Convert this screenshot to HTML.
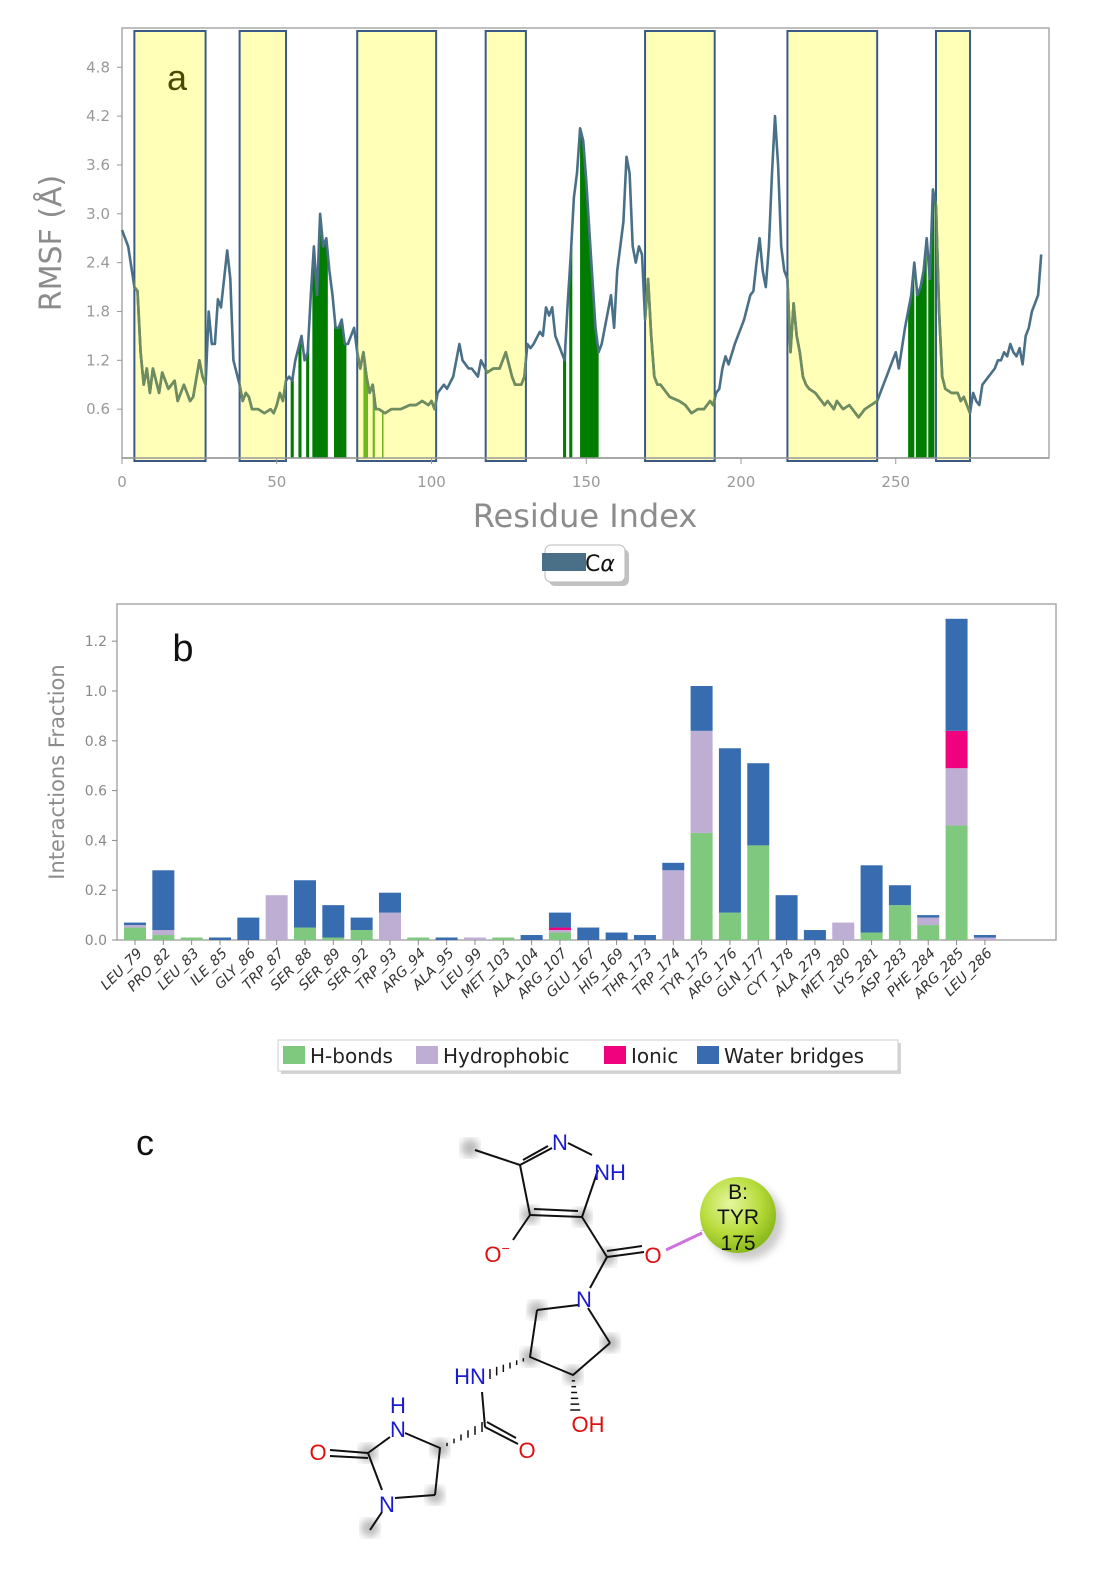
<!DOCTYPE html>
<html><head><meta charset="utf-8">
<style>
html,body{margin:0;padding:0;background:#fff;}
body{width:1106px;height:1595px;overflow:hidden;font-family:"DejaVu Sans","Liberation Sans",sans-serif;}
svg{position:absolute;left:0;top:0;}
</style></head>
<body>
<svg id="fig" width="1106" height="1595" viewBox="0 0 1106 1595">
<defs>
<clipPath id="ycl"></clipPath>
<radialGradient id="tyrg" cx="40%" cy="35%" r="65%"><stop offset="0" stop-color="#e6f7a0"/><stop offset="0.6" stop-color="#b8dc3c"/><stop offset="1" stop-color="#8cba1c"/></radialGradient>
<filter id="blur"><feGaussianBlur stdDeviation="4"/></filter>
</defs>
<g id="pa"></g>
<g id="pb"></g>
<g id="pc"></g>
</svg>
<script>
// ---------- Panel a data ----------
const rmsfRes = [0,2,4,5,6,7,8,9,10,12,13,15,17,18,20,22,23,25,26,27,28,29,30,31,32,34,35,36,38,39,40,41,42,44,46,48,49,50,51,52,53,54,55,56,58,59,60,61,62,63,64,65,66,67,68,69,70,71,72,73,74,75,76,77,78,79,80,81,82,83,85,87,90,93,95,97,99,100,101,102,104,105,107,109,110,112,113,115,116,118,120,122,124,126,127,129,130,131,132,133,135,136,137,138,139,140,141,142,143,144,145,146,147,148,149,150,151,152,153,154,155,157,158,159,160,162,163,164,165,166,167,168,169,170,171,172,173,174,176,177,180,182,184,186,188,189,190,191,192,193,194,195,196,198,200,201,202,203,204,205,206,207,208,209,210,211,212,213,214,215,216,217,218,219,220,221,222,224,225,227,228,230,231,233,235,236,238,240,242,244,246,247,249,250,251,253,254,255,256,257,258,259,260,261,262,263,264,265,266,268,270,271,272,273,274,275,276,277,278,280,282,283,284,285,286,287,288,289,290,291,292,293,294,295,296,297];
const rmsfVal = [2.8,2.6,2.1,2.05,1.3,0.9,1.1,0.8,1.1,0.8,1.05,0.85,0.95,0.7,0.9,0.7,0.75,1.2,1.0,0.9,1.8,1.4,1.4,1.95,1.85,2.55,2.2,1.2,0.9,0.7,0.8,0.75,0.6,0.6,0.55,0.6,0.55,0.65,0.8,0.7,0.95,1.0,0.95,1.2,1.5,1.2,1.3,2.0,2.6,2.0,3.0,2.6,2.7,2.3,2.0,1.6,1.6,1.7,1.4,1.4,1.5,1.6,1.3,1.1,1.3,1.0,0.8,0.9,0.6,0.6,0.55,0.6,0.6,0.65,0.65,0.7,0.65,0.7,0.6,0.8,0.9,0.85,1.0,1.4,1.2,1.1,1.1,1.0,1.2,1.05,1.1,1.1,1.3,1.0,0.9,0.9,1.0,1.4,1.35,1.4,1.55,1.5,1.85,1.75,1.85,1.5,1.4,1.3,1.2,1.9,2.5,3.2,3.5,4.05,3.9,3.4,2.8,2.2,1.6,1.3,1.4,1.8,2.0,1.6,2.3,2.9,3.7,3.5,2.6,2.4,2.6,2.5,1.7,2.2,1.5,1.0,0.9,0.9,0.8,0.75,0.7,0.65,0.55,0.6,0.6,0.65,0.7,0.65,0.8,0.85,1.1,1.25,1.15,1.4,1.6,1.7,1.85,2.0,2.05,2.4,2.7,2.3,2.1,2.6,3.5,4.2,3.6,2.6,2.3,2.2,1.3,1.9,1.5,1.3,1.0,0.9,0.85,0.8,0.75,0.65,0.7,0.6,0.7,0.6,0.65,0.6,0.5,0.6,0.65,0.7,0.9,1.0,1.2,1.3,1.1,1.6,1.8,2.0,2.4,2.0,2.1,2.3,2.7,2.2,3.3,3.1,1.8,1.0,0.85,0.8,0.8,0.7,0.75,0.65,0.55,0.8,0.7,0.65,0.9,1.0,1.1,1.2,1.2,1.3,1.25,1.4,1.3,1.25,1.35,1.15,1.5,1.6,1.8,1.9,2.0,2.5];
const helixStart = [4,38,76,117.5,169,215,263];
const helixEnd   = [27,53,101.5,130.5,191.5,244,274];
const contactStart = [54.5,57,59.5,61.5,68.5,142.5,144.5,148,254,256.5,260.5];
const contactEnd   = [55.5,58,60.5,66.5,72.5,143.5,145.5,154,256,260,262.5];
const weakStart = [78,81,84];
const weakEnd   = [79.5,81.7,84.5];
const xTicksA = [0,50,100,150,200,250];
const yTicksA = [0.6,1.2,1.8,2.4,3.0,3.6,4.2,4.8];

// ---------- Panel b data ----------
const residues = ["LEU_79","PRO_82","LEU_83","ILE_85","GLY_86","TRP_87","SER_88","SER_89","SER_92","TRP_93","ARG_94","ALA_95","LEU_99","MET_103","ALA_104","ARG_107","GLU_167","HIS_169","THR_173","TRP_174","TYR_175","ARG_176","GLN_177","CYT_178","ALA_279","MET_280","LYS_281","ASP_283","PHE_284","ARG_285","LEU_286"];
const hbonds      = [0.05,0.02,0.01,0,0,0,0.05,0.01,0.04,0,0.01,0,0,0.01,0,0.03,0,0,0,0,0.43,0.11,0.38,0,0,0,0.03,0.14,0.06,0.46,0];
const hydrophobic = [0.01,0.02,0,0,0,0.18,0,0,0,0.11,0,0,0.01,0,0,0.01,0,0,0,0.28,0.41,0,0,0,0,0.07,0,0,0.03,0.23,0.01];
const ionic       = [0,0,0,0,0,0,0,0,0,0,0,0,0,0,0,0.01,0,0,0,0,0,0,0,0,0,0,0,0,0,0.15,0];
const water       = [0.01,0.24,0,0.01,0.09,0,0.19,0.13,0.05,0.08,0,0.01,0,0,0.02,0.06,0.05,0.03,0.02,0.03,0.18,0.66,0.33,0.18,0.04,0,0.27,0.08,0.01,0.45,0.01];
const yTicksB = [0.0,0.2,0.4,0.6,0.8,1.0,1.2];

const NS="http://www.w3.org/2000/svg";
function mk(tag,attrs,parent,text){const e=document.createElementNS(NS,tag);for(const k in attrs)e.setAttribute(k,attrs[k]);if(text!==undefined)e.textContent=text;parent.appendChild(e);return e;}

// ===== Panel A =====
const pa=document.getElementById('pa');
const AX0=122, AX1=1049, AY0=28, AY1=458;
const xA=r=>122+r*3.095;
const yA=v=>458-v*81.4;
mk('rect',{x:AX0,y:AY0,width:AX1-AX0,height:AY1-AY0,fill:'#fff',stroke:'#aaa','stroke-width':1.5},pa);
const clip=document.getElementById('ycl');
for(let i=0;i<helixStart.length;i++){
  const r=mk('rect',{x:xA(helixStart[i]),y:31,width:xA(helixEnd[i])-xA(helixStart[i]),height:430,fill:'#ffffb8',stroke:'#3a5a8a','stroke-width':2},pa);
  
  
  mk('rect',{x:xA(helixStart[i]),y:31,width:xA(helixEnd[i])-xA(helixStart[i]),height:430},clip);
}
function interp(r){for(let i=0;i<rmsfRes.length-1;i++){if(r>=rmsfRes[i]&&r<=rmsfRes[i+1]){const t=(r-rmsfRes[i])/(rmsfRes[i+1]-rmsfRes[i]);return rmsfVal[i]+t*(rmsfVal[i+1]-rmsfVal[i]);}}return rmsfVal[rmsfVal.length-1];}
function fillRange(a,b,col){
  let pts=[[xA(a),yA(0)]];
  pts.push([xA(a),yA(interp(a))]);
  for(let i=0;i<rmsfRes.length;i++)if(rmsfRes[i]>a&&rmsfRes[i]<b)pts.push([xA(rmsfRes[i]),yA(rmsfVal[i])]);
  pts.push([xA(b),yA(interp(b))]);pts.push([xA(b),yA(0)]);
  return mk('polygon',{points:pts.map(p=>p.join(',')).join(' '),fill:col},pa);
}
for(let i=0;i<contactStart.length;i++){const p=fillRange(contactStart[i],contactEnd[i],'#007d00');
  
  }
for(let i=0;i<weakStart.length;i++){const p=fillRange(weakStart[i],weakEnd[i],'#6ab81e');
  
  }
const dLine=rmsfRes.map((r,i)=>(i?'L':'M')+xA(r).toFixed(1)+','+yA(rmsfVal[i]).toFixed(1)).join(' ');
const ln=mk('path',{d:dLine,fill:'none',stroke:'#4a7088','stroke-width':2.6,'stroke-linejoin':'round'},pa);


mk('path',{d:dLine,fill:'none',stroke:'#6f8c5e','stroke-width':2.6,'stroke-linejoin':'round','clip-path':'url(#ycl)'},pa);
mk('line',{x1:AX0,y1:AY1,x2:AX1,y2:AY1,stroke:'#999','stroke-width':1.5},pa);
yTicksA.forEach(v=>{mk('line',{x1:AX0-5,y1:yA(v),x2:AX0,y2:yA(v),stroke:'#999'},pa);
  const t=mk('text',{x:AX0-12,y:yA(v)+5,'text-anchor':'end','font-size':15,fill:'#999'},pa,v.toFixed(1));
  
  });
xTicksA.forEach(v=>{mk('line',{x1:xA(v),y1:AY1,x2:xA(v),y2:AY1+6,stroke:'#999'},pa);
  const t=mk('text',{x:xA(v),y:AY1+29,'text-anchor':'middle','font-size':15,fill:'#999'},pa,String(v));
  
  });
let t=mk('text',{x:177,y:90,'text-anchor':'middle','font-size':36,fill:'#4a4a00','font-family':'Liberation Sans, sans-serif'},pa,'a');

t=mk('text',{x:0,y:0,transform:'translate(61,243) rotate(-90)','text-anchor':'middle','font-size':30,fill:'#8c8c8c'},pa,'RMSF (Å)');

t=mk('text',{x:585,y:527,'text-anchor':'middle','font-size':32,fill:'#8c8c8c'},pa,'Residue Index');

mk('rect',{x:549,y:549,width:80,height:37,rx:6,fill:'#999',opacity:0.6},pa);
let lg=mk('rect',{x:545,y:545,width:80,height:37,rx:6,fill:'#fff',stroke:'#bbb'},pa);

mk('rect',{x:542,y:553,width:44,height:18,fill:'#4a7088'},pa);
mk('text',{x:585,y:571,'font-size':22,fill:'#111'},pa).innerHTML='C<tspan font-style="italic">α</tspan>';

// ===== Panel B =====
const pb=document.getElementById('pb');
const BX0=117,BX1=1056,BY0=604,BY1=940;
const yB=v=>940-v*249;
const xB=i=>135+i*28.33;
mk('rect',{x:BX0,y:BY0,width:BX1-BX0,height:BY1-BY0,fill:'#fff',stroke:'#aaa','stroke-width':1.5},pb);
const series=[[hbonds,'#7fc97f','hbonds'],[hydrophobic,'#beaed4','hydrophobic'],[ionic,'#f0027f','ionic'],[water,'#386cb0','water-bridges']];
residues.forEach((name,i)=>{
  let base=0;
  series.forEach(([arr,col,nm])=>{
    const v=arr[i]; if(v<=0)return;
    const r=mk('rect',{x:xB(i)-11,y:yB(base+v),width:22,height:yB(base)-yB(base+v),fill:col},pb);
    
    
    base+=v;
  });
  mk('line',{x1:xB(i),y1:BY1,x2:xB(i),y2:BY1+5,stroke:'#888'},pb);
  const lbl=mk('text',{x:0,y:0,transform:`translate(${xB(i)+8},${BY1+14}) rotate(-45)`,'text-anchor':'end','font-size':14,'font-style':'italic',fill:'#333'},pb,name);
  
  
});
yTicksB.forEach(v=>{mk('line',{x1:BX0-5,y1:yB(v),x2:BX0,y2:yB(v),stroke:'#888'},pb);
  const tt=mk('text',{x:BX0-10,y:yB(v)+5,'text-anchor':'end','font-size':14,fill:'#888'},pb,v.toFixed(1));
  
  });
t=mk('text',{x:183,y:661,'text-anchor':'middle','font-size':38,fill:'#111','font-family':'Liberation Sans, sans-serif'},pb,'b');

t=mk('text',{x:0,y:0,transform:'translate(64,772) rotate(-90)','text-anchor':'middle','font-size':21,fill:'#8c8c8c'},pb,'Interactions Fraction');

mk('rect',{x:281,y:1043,width:620,height:31,fill:'#aaa',opacity:0.5},pb);
lg=mk('rect',{x:278,y:1040,width:620,height:31,fill:'#fff',stroke:'#ccc'},pb);

const legItems=[['H-bonds','#7fc97f',283],['Hydrophobic','#beaed4',416],['Ionic','#f0027f',604],['Water bridges','#386cb0',697]];
legItems.forEach(([n,c,x])=>{mk('rect',{x:x,y:1046,width:22,height:18,fill:c},pb);
  const e=mk('text',{x:x+27,y:1063,'font-size':20,fill:'#222'},pb,n);
  });

// ===== Panel C =====
const pc=document.getElementById('pc');
t=mk('text',{x:145,y:1155,'text-anchor':'middle','font-size':36,fill:'#111','font-family':'Liberation Sans, sans-serif'},pc,'c');

const shadows=[[470,1148],[530,1215],[582,1217],[607,1257],[537,1310],[610,1343],[530,1357],[573,1375],[440,1448],[435,1495],[368,1453],[370,1528]];
shadows.forEach(([x,y])=>mk('circle',{cx:x,cy:y,r:9,fill:'#bbb',filter:'url(#blur)'},pc));
const bonds=[[475,1150,520,1165],[520,1165,552,1148],[598,1170,582,1217],[582,1217,530,1215],[530,1215,520,1165],[530,1215,513,1240],[582,1217,607,1257],[607,1257,644,1252],[607,1257,590,1288],[578,1305,537,1310],[537,1310,530,1357],[530,1357,573,1375],[573,1375,610,1343],[610,1343,588,1308],[482,1392,485,1427],[485,1427,518,1444],[440,1448,405,1433],[390,1437,368,1453],[368,1453,330,1450],[368,1453,382,1490],[395,1498,435,1495],[435,1495,440,1448],[382,1512,370,1530],[568,1143,592,1155]];
bonds.forEach(b=>mk('line',{x1:b[0],y1:b[1],x2:b[2],y2:b[3],stroke:'#111','stroke-width':2},pc));
const dbl=[[523,1160,548,1146],[534,1209,578,1211],[607,1251,642,1246],[487,1422,516,1438],[368,1458,330,1456]];
dbl.forEach(b=>mk('line',{x1:b[0],y1:b[1],x2:b[2],y2:b[3],stroke:'#111','stroke-width':2},pc));
for(let k=0;k<7;k++){const f=k/6;const x=530-(530-490)*f,y=1357+(1374-1357)*f;mk('line',{x1:x,y1:y-1-f*4,x2:x,y2:y+1+f*4,stroke:'#111','stroke-width':1.5},pc);}
for(let k=0;k<7;k++){const f=k/6;const x=573+(588-573)*f*0.15,y=1375+(1410-1375)*f;mk('line',{x1:x-1-f*4,y1:y,x2:x+1+f*4,y2:y,stroke:'#111','stroke-width':1.5},pc);}
for(let k=0;k<7;k++){const f=k/6;const x=440+(482-440)*f,y=1448+(1427-1448)*f;mk('line',{x1:x,y1:y-1-f*4,x2:x,y2:y+1+f*4,stroke:'#111','stroke-width':1.5},pc);}
const atoms=[['N',560,1150,'#1a1ad0'],['NH',610,1180,'#1a1ad0'],['N',584,1307,'#1a1ad0'],['HN',470,1384,'#1a1ad0'],['H',398,1413,'#1a1ad0'],['N',398,1437,'#1a1ad0'],['N',387,1512,'#1a1ad0'],['O',653,1263,'#e01010'],['O',318,1460,'#e01010'],['O',527,1458,'#e01010'],['OH',588,1432,'#e01010']];
atoms.forEach(([s,x,y,c])=>{const e=mk('text',{x:x,y:y,'text-anchor':'middle','font-size':22,fill:c,'font-family':'Liberation Sans, sans-serif'},pc,s);
  });
mk('text',{x:497,y:1262,'text-anchor':'middle','font-size':22,fill:'#e01010','font-family':'Liberation Sans, sans-serif'},pc).innerHTML='O<tspan dy="-9" font-size="14">−</tspan>';
mk('line',{x1:666,y1:1250,x2:702,y2:1233,stroke:'#d070e0','stroke-width':3},pc);
mk('text',{x:700,y:1231,'font-size':11,fill:'#e0a0f0'},pc,'30');
mk('circle',{cx:745,cy:1222,r:38,fill:'#999',opacity:0.5,filter:'url(#blur)'},pc);
const tc=mk('circle',{cx:738,cy:1215,r:38,fill:'url(#tyrg)'},pc);

[['B:',1199],['TYR',1224],['175',1250]].forEach(([s,y])=>mk('text',{x:738,y:y,'text-anchor':'middle','font-size':21,fill:'#111','font-family':'Liberation Sans, sans-serif'},pc,s));
</script>
</body></html>
